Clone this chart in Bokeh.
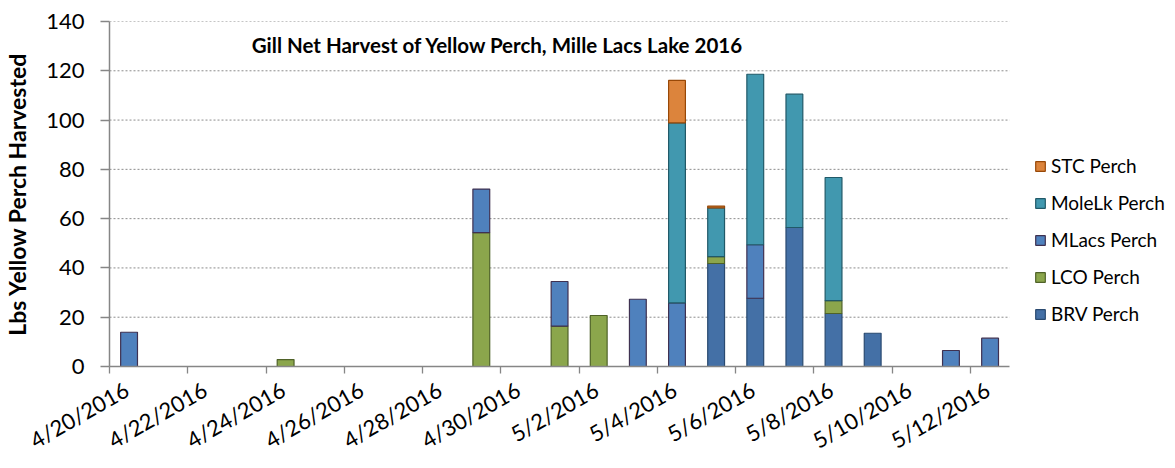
from bokeh.plotting import figure
from bokeh.models import ColumnDataSource, FixedTicker, Legend, LegendItem, Label, Range1d
from bokeh.embed import file_html
from bokeh.resources import INLINE

dates = ["4/20/2016", "4/21/2016", "4/22/2016", "4/23/2016", "4/24/2016", "4/25/2016",
         "4/26/2016", "4/27/2016", "4/28/2016", "4/29/2016", "4/30/2016", "5/1/2016",
         "5/2/2016", "5/3/2016", "5/4/2016", "5/5/2016", "5/6/2016", "5/7/2016",
         "5/8/2016", "5/9/2016", "5/10/2016", "5/11/2016", "5/12/2016"]

brv    = [0, 0, 0, 0, 0,   0, 0, 0, 0, 0,    0, 0,    0,    0,    0,    41.8, 27.7, 56.4, 21.5, 13.5, 0, 0,   0]
lco    = [0, 0, 0, 0, 2.8, 0, 0, 0, 0, 54.3, 0, 16.4, 20.7, 0,    0,    2.8,  0,    0,    5.2,  0,    0, 0,   0]
mlacs  = [13.9, 0, 0, 0, 0, 0, 0, 0, 0, 17.7, 0, 18.1, 0,  27.3, 25.8, 0,    21.7, 0,    0,    0,    0, 6.5, 11.5]
molelk = [0, 0, 0, 0, 0,   0, 0, 0, 0, 0,    0, 0,    0,    0,    73.1, 19.8, 69.2, 54.1, 50.0, 0,    0, 0,   0]
stc    = [0, 0, 0, 0, 0,   0, 0, 0, 0, 0,    0, 0,    0,    0,    17.2, 0.7,  0,    0,    0,    0,    0, 0,   0]

series_names = ["BRV Perch", "LCO Perch", "MLacs Perch", "MoleLk Perch", "STC Perch"]
fill_colors = ["#4470A6", "#8BA64C", "#4F81BD", "#4198AF", "#DC843C"]
line_colors = ["#2A4A70", "#4F6228", "#3F3151", "#215968", "#984807"]

yticks = [0, 20, 40, 60, 80, 100, 120, 140]
tick_dates = dates[::2]

title_text = "Gill Net Harvest of Yellow Perch, Mille Lacs Lake 2016"
ylabel = "Lbs Yellow Perch Harvested"

n = len(dates)
W, H = 1175, 468
left, top, bottom_b = 108, 21, 102
frame_w = W - left
x_end = n * frame_w / 901.0   # data axis covers the first 901 px, legend sits right of it

p = figure(width=W, height=H, output_backend="svg", toolbar_location=None,
           x_range=Range1d(0, x_end), y_range=Range1d(0, 140),
           min_border_left=left, min_border_right=0, min_border_top=top, min_border_bottom=bottom_b)
p.outline_line_color = None
p.background_fill_color = "white"
p.border_fill_color = "white"

# dotted horizontal gridlines, limited to the data area
grid_y = [t for t in yticks if t > 0]
p.segment(x0=[0] * len(grid_y), x1=[n] * len(grid_y), y0=grid_y, y1=grid_y,
          line_color="#8c8c8c", line_dash="2 2", line_width=1)

stack_base = [0.0] * n
rends = {}
for name, vals, fc, lc in zip(series_names, [brv, lco, mlacs, molelk, stc], fill_colors, line_colors):
    xs, bots, tops = [], [], []
    for i, v in enumerate(vals):
        if v > 0:
            xs.append(i + 0.5)
            bots.append(stack_base[i])
            tops.append(stack_base[i] + v)
        stack_base[i] += v
    src = ColumnDataSource(dict(x=xs, bottom=bots, top=tops))
    rends[name] = p.vbar(x="x", bottom="bottom", top="top", width=0.43, source=src,
                         fill_color=fc, line_color=lc, line_width=1.2)

label_pos = [i + 0.4375 for i in range(0, n, 2)]
mark_pos = [i for i in range(0, n, 2)]
p.xaxis.ticker = FixedTicker(ticks=label_pos, minor_ticks=mark_pos)
p.xaxis.major_label_overrides = {pos: lab for pos, lab in zip(label_pos, tick_dates)}
p.xaxis.bounds = (0, n)
p.xaxis.major_tick_line_color = None
p.xaxis.major_tick_out = 0
p.xaxis.major_tick_in = 0
p.xaxis.minor_tick_line_color = "#868686"
p.xaxis.minor_tick_line_width = 1.3
p.xaxis.minor_tick_out = 7
p.xaxis.minor_tick_in = 0
p.xaxis.axis_line_color = "#868686"
p.xaxis.axis_line_width = 1.5
p.xaxis.major_label_orientation = 0.52
p.xaxis.major_label_standoff = 14
p.xaxis.major_label_text_font = "Lato"
p.xaxis.major_label_text_font_size = "22px"
p.xaxis.major_label_text_color = "#000000"

p.yaxis.ticker = FixedTicker(ticks=yticks)
p.yaxis.axis_line_color = "#868686"
p.yaxis.axis_line_width = 1.5
p.yaxis.major_tick_line_color = "#868686"
p.yaxis.major_tick_line_width = 1.3
p.yaxis.major_tick_out = 9
p.yaxis.major_tick_in = 0
p.yaxis.minor_tick_line_color = None
p.yaxis.major_label_standoff = 16
p.yaxis.major_label_text_font = "Lato"
p.yaxis.major_label_text_font_size = "22px"
p.yaxis.major_label_text_color = "#000000"
p.yaxis.axis_label = ylabel
p.yaxis.axis_label_text_font = "Lato"
p.yaxis.axis_label_text_font_style = "bold"
p.yaxis.axis_label_text_font_size = "23px"
p.yaxis.axis_label_text_color = "#000000"
p.yaxis.axis_label_standoff = 12

p.xgrid.visible = False
p.ygrid.visible = False

p.add_layout(Label(x=9.92, y=130.3, text=title_text, text_align="center", text_baseline="middle",
                   text_font="Lato", text_font_style="bold", text_font_size="20.5px",
                   text_color="#000000"))

legend = Legend(items=[LegendItem(label=nm, renderers=[rends[nm]]) for nm in reversed(series_names)],
                location=(925, 41), label_text_font="Lato", label_text_font_size="19px",
                label_text_color="#000000",
                glyph_width=12, glyph_height=12, label_height=22, spacing=14, padding=0, margin=0,
                label_standoff=5, border_line_color=None, background_fill_alpha=0)
p.add_layout(legend)

open("out.html", "w").write(file_html(p, INLINE))
